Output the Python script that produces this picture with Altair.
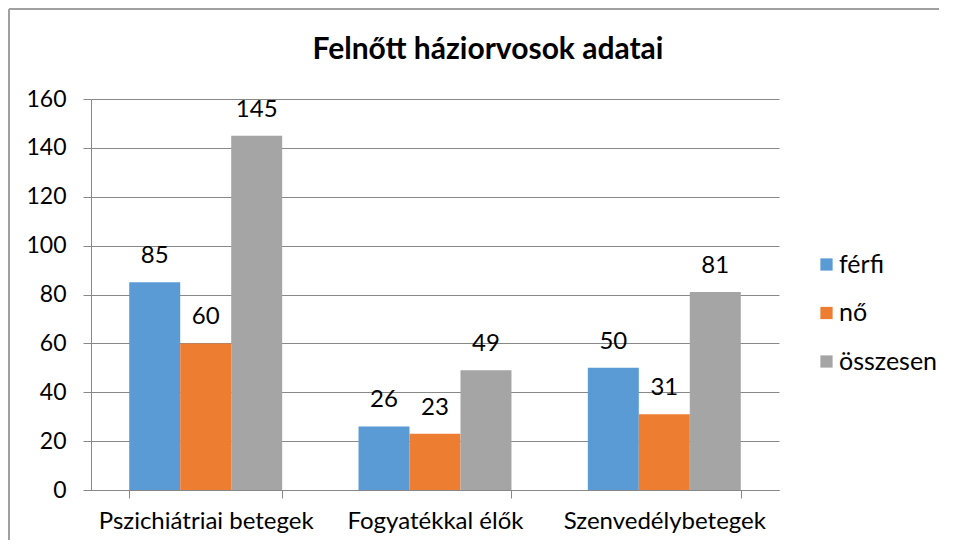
import altair as alt
import pandas as pd

categories = ["Pszichiátriai betegek", "Fogyatékkal élők", "Szenvedélybetegek"]
series = ["férfi", "nő", "összesen"]
ferfi = [85, 26, 50]
no = [60, 23, 31]
osszesen = [145, 49, 81]
colors = ["#5B9BD5", "#ED7D31", "#A5A5A5"]
title_text = "Felnőtt háziorvosok adatai"

rows = []
for i, c in enumerate(categories):
    for s, vals in zip(series, [ferfi, no, osszesen]):
        rows.append({"kategoria": c, "sorozat": s, "ertek": vals[i]})
df = pd.DataFrame(rows)

FONT = "Lato"
FS = 24
W, H = 688, 391

x = alt.X("kategoria:N", sort=categories, title=None,
          scale=alt.Scale(paddingInner=0.333, paddingOuter=0.1667),
          axis=alt.Axis(labelAngle=0, tickBand="extent", ticks=True, tickSize=8,
                        tickColor="#888888", domainColor="#888888", labelPadding=11,
                        labelLimit=0, labelFontSize=FS, labelFont=FONT, labelColor="#000000"))
xo = alt.XOffset("sorozat:N", sort=series, scale=alt.Scale(paddingInner=0, paddingOuter=0))
y = alt.Y("ertek:Q", title=None,
          scale=alt.Scale(domain=[0, 160]),
          axis=alt.Axis(values=list(range(0, 161, 20)), tickSize=8, tickColor="#888888",
                        domainColor="#888888", gridColor="#888888", grid=True,
                        labelPadding=17, labelFontSize=23, labelFont=FONT, labelColor="#000000"))
color = alt.Color("sorozat:N", sort=series,
                  scale=alt.Scale(domain=series, range=colors),
                  legend=alt.Legend(title=None, orient="none", legendX=723, legendY=153,
                                    symbolType="square", symbolSize=150, symbolStrokeWidth=0,
                                    labelFontSize=25, labelFont=FONT, labelColor="#000000",
                                    rowPadding=22.5, labelOffset=0, labelLimit=0))

base = alt.Chart(df)
bars = base.mark_bar().encode(x=x, xOffset=xo, y=y, color=color)
labels = base.mark_text(dy=-19, baseline="alphabetic", fontSize=FS, font=FONT, color="#000000").encode(
    x=x, xOffset=xo, y=y, text="ertek:Q")

one = pd.DataFrame({"t": [title_text]})
title = alt.Chart(one).mark_text(font=FONT, fontSize=30, fontWeight="bold", color="#000000",
                                 align="center", baseline="alphabetic").encode(
    x=alt.value(397), y=alt.value(-40), text="t:N")
top_line = alt.Chart(one).mark_rule(stroke="#a0a0a0", strokeWidth=2).encode(
    x=alt.value(-82), x2=alt.value(860), y=alt.value(-90))
left_line = alt.Chart(one).mark_rule(stroke="#a0a0a0", strokeWidth=2).encode(
    x=alt.value(-82), y=alt.value(-90), y2=alt.value(460))

chart = alt.layer(top_line, left_line, bars, labels, title).properties(
    width=W, height=H,
    autosize=alt.AutoSizeParams(type="none"),
    padding={"left": 83, "top": 91, "right": 160, "bottom": 50},
).configure_view(stroke=None)

chart.save("out.html", embed_options={"renderer": "svg", "actions": False})
